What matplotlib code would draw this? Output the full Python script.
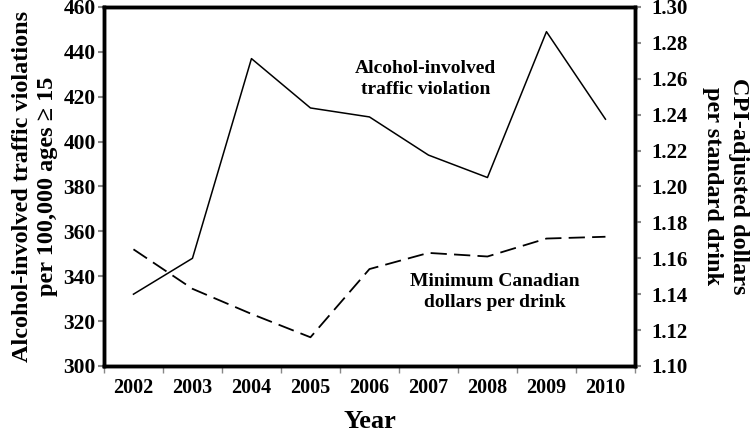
import numpy as np
import matplotlib.pyplot as plt

years = ["2002", "2003", "2004", "2005", "2006", "2007", "2008", "2009", "2010"]
violations = [332, 348, 437, 415, 411, 394, 384, 449, 410]
price = [1.165, 1.143, 1.129, 1.116, 1.154, 1.163, 1.161, 1.171, 1.172]

plt.rcParams['font.family'] = ['Liberation Serif', 'DejaVu Serif']
plt.rcParams['font.weight'] = 'bold'

fig = plt.figure(figsize=(7.55, 4.32), dpi=100)
ax = fig.add_axes([0.1377, 0.1528, 0.7033, 0.831])
ax2 = ax.twinx()

x = np.arange(len(years))
ax.plot(x, violations, color='black', linewidth=1.1)
ax2.plot(x, price, color='black', linewidth=1.3, dashes=(9, 4))

ax.set_xlim(-0.5, len(years) - 0.5)
ax.set_ylim(300, 460)
ax.set_yticks(np.arange(300, 461, 20))
ax2.set_ylim(1.10, 1.30)
ax2.set_yticks(np.arange(1.10, 1.301, 0.02))
ax2.set_yticklabels([f"{v:.2f}" for v in np.arange(1.10, 1.301, 0.02)])

# category boundaries as ticks, labels centred between them
ax.set_xticks(np.arange(-0.5, len(years), 1.0))
ax.set_xticklabels([])
ax.set_xticks(x, minor=True)
ax.set_xticklabels(years, minor=True, fontsize=14.5, fontweight='bold')
ax.tick_params(axis='x', which='major', length=5, width=1, color='#888888', direction='out')
ax.tick_params(axis='x', which='minor', length=0, pad=9)

ax.tick_params(axis='y', length=4, width=1.5, color='#888888', labelsize=15.5, pad=2)
ax2.tick_params(axis='y', length=4, width=1.5, color='#888888', labelsize=15, pad=8)
for lab in ax.get_yticklabels() + ax2.get_yticklabels():
    lab.set_fontweight('bold')

for a in (ax, ax2):
    for s in a.spines.values():
        s.set_linewidth(2.5)
        s.set_color('black')

ax.set_xlabel("Year", fontsize=19, fontweight='bold', labelpad=8)
ax.set_ylabel("Alcohol-involved traffic violations\nper 100,000 ages \u2265 15",
              fontsize=17.5, fontweight='bold', labelpad=4, linespacing=1.25)
ax2.set_ylabel("CPI-adjusted dollars\nper standard drink", fontsize=17.5,
               fontweight='bold', rotation=270, labelpad=44, linespacing=1.3)

ax.text(0.605, 0.80, "Alcohol-involved\ntraffic violation", transform=ax.transAxes,
        ha='center', va='center', fontsize=14, fontweight='bold', linespacing=1.3)
ax.text(0.736, 0.205, "Minimum Canadian\ndollars per drink", transform=ax.transAxes,
        ha='center', va='center', fontsize=14, fontweight='bold', linespacing=1.3)

fig.savefig("out.png", dpi=100)
